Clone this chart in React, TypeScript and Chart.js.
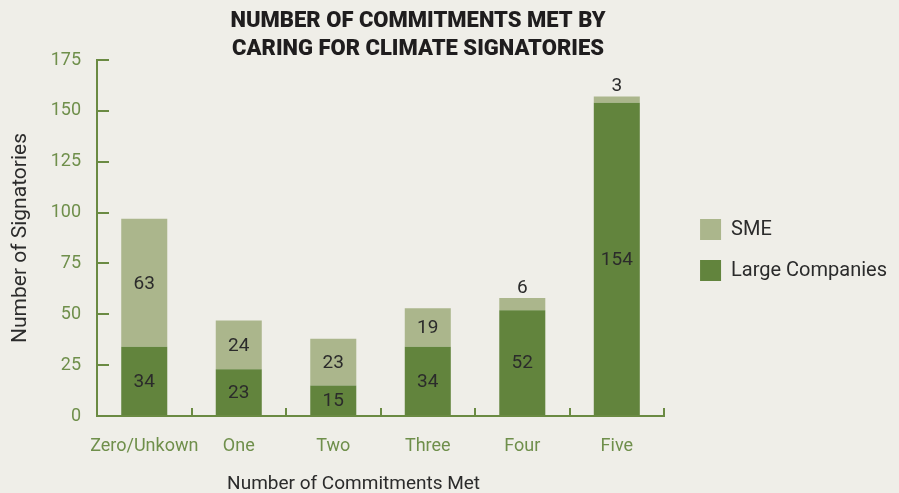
import React, { useEffect, useRef } from 'react';
import { Chart, registerables } from 'chart.js';

Chart.register(...registerables);

// ---- data ----
const CATEGORIES = ['Zero/Unkown', 'One', 'Two', 'Three', 'Four', 'Five'];
const LARGE_COMPANIES = [34, 23, 15, 34, 52, 154];
const SME = [63, 24, 23, 19, 6, 3];
const Y_MIN = 0;
const Y_MAX = 175;
const Y_STEP = 25;
const TITLE_LINES = ['NUMBER OF COMMITMENTS MET BY', 'CARING FOR CLIMATE SIGNATORIES'];
const X_TITLE = 'Number of Commitments Met';
const Y_TITLE = 'Number of Signatories';

// ---- style ----
const BG = '#efeee8';
const DARK_GREEN = '#62843d';
const LIGHT_GREEN = '#abb68c';
const AXIS_GREEN = '#6a8a42';
const TICK_GREEN = '#6f8f4b';
const TEXT = '#2b2b2b';
const FONT = 'Roboto';

const textPlugin = {
  id: 'extraText',
  afterDraw(chart: any) {
    const { ctx, chartArea } = chart;
    ctx.save();
    // main title
    ctx.fillStyle = '#1f1d1e';
    ctx.font = `900 22px ${FONT}`;
    ctx.textAlign = 'center';
    ctx.textBaseline = 'middle';
    const tx = chart.width * 0.465;
    TITLE_LINES.forEach((line, i) => ctx.fillText(line, tx, 21 + i * 28));
    // x axis title
    ctx.fillStyle = TEXT;
    ctx.font = `400 19px ${FONT}`;
    const xx = chartArea.left + (chartArea.right - chartArea.left) * 0.4525;
    ctx.fillText(X_TITLE, xx, chart.height - 9);
    ctx.restore();
  },
};

const valueLabelPlugin = {
  id: 'valueLabels',
  afterDatasetsDraw(chart: any) {
    const { ctx } = chart;
    ctx.save();
    ctx.font = `400 19px ${FONT}`;
    ctx.fillStyle = TEXT;
    ctx.textAlign = 'center';
    ctx.textBaseline = 'middle';
    chart.data.datasets.forEach((ds: any, di: number) => {
      const meta = chart.getDatasetMeta(di);
      meta.data.forEach((bar: any, i: number) => {
        const v = ds.data[i];
        const h = Math.abs(bar.base - bar.y);
        if (h >= 20) {
          ctx.fillText(String(v), bar.x, (bar.y + bar.base) / 2 + 1);
        } else {
          ctx.fillText(String(v), bar.x, bar.y - 10);
        }
      });
    });
    ctx.restore();
  },
};

export default function App() {
  const ref = useRef<HTMLCanvasElement>(null);

  useEffect(() => {
    document.body.style.margin = '0';
    document.body.style.background = BG;
    document.documentElement.style.background = BG;
    const canvas = ref.current!;
    const chart = new Chart(canvas, {
      type: 'bar',
      data: {
        labels: CATEGORIES,
        datasets: [
          {
            label: 'Large Companies',
            data: LARGE_COMPANIES,
            backgroundColor: DARK_GREEN,
            borderWidth: 0,
          },
          {
            label: 'SME',
            data: SME,
            backgroundColor: LIGHT_GREEN,
            borderWidth: 0,
          },
        ],
      },
      options: {
        responsive: false,
        animation: false,
        events: [],
        layout: { padding: { top: 60, left: 0, right: 2, bottom: 0 } },
        datasets: {
          bar: { categoryPercentage: 1, barPercentage: 0.487 },
        },
        plugins: {
          title: { display: false },
          tooltip: { enabled: false },
          legend: {
            position: 'right',
            fullSize: false,
            reverse: true,
            maxWidth: 300,
            title: { display: true, text: '', font: { size: 10, lineHeight: 1.2 }, padding: 6 },
            labels: {
              boxWidth: 21,
              boxHeight: 21,
              padding: 20,
              color: TEXT,
              font: { family: FONT, size: 20 },
            },
          },
        },
        scales: {
          x: {
            stacked: true,
            offset: true,
            border: { display: true, color: AXIS_GREEN, width: 2 },
            grid: {
              display: true,
              drawOnChartArea: false,
              drawTicks: true,
              offset: true,
              tickLength: -8,
              lineWidth: 2,
              color: (c: any) => (c.index === CATEGORIES.length ? 'rgba(0,0,0,0)' : AXIS_GREEN),
            },
            ticks: {
              color: TICK_GREEN,
              font: { family: FONT, size: 18 },
              padding: 28,
              maxRotation: 0,
              autoSkip: false,
            },
            afterFit: (s: any) => {
              s.height = 77;
            },
          },
          y: {
            stacked: true,
            min: Y_MIN,
            max: Y_MAX,
            border: { display: true, color: AXIS_GREEN, width: 2 },
            grid: {
              display: true,
              drawOnChartArea: false,
              drawTicks: true,
              tickLength: -12,
              lineWidth: 2,
              color: AXIS_GREEN,
            },
            ticks: {
              stepSize: Y_STEP,
              color: TICK_GREEN,
              font: { family: FONT, size: 18 },
              padding: 28,
            },
            title: {
              display: true,
              text: Y_TITLE,
              color: TEXT,
              font: { family: FONT, size: 21 },
              padding: { top: 8, bottom: 0 },
            },
            afterFit: (s: any) => {
              s.width = 97;
            },
          },
          gap: {
            type: 'linear',
            axis: 'y',
            position: 'right',
            display: true,
            border: { display: false },
            grid: { display: false, drawTicks: false },
            ticks: { display: false },
            afterFit: (s: any) => {
              s.width = 16;
            },
          },
        },
      },
      plugins: [valueLabelPlugin, textPlugin],
    } as any);
    return () => chart.destroy();
  }, []);

  return (
    <div style={{ width: 899, height: 493, background: BG }}>
      <canvas ref={ref} width={899} height={493} style={{ display: 'block' }} />
    </div>
  );
}
